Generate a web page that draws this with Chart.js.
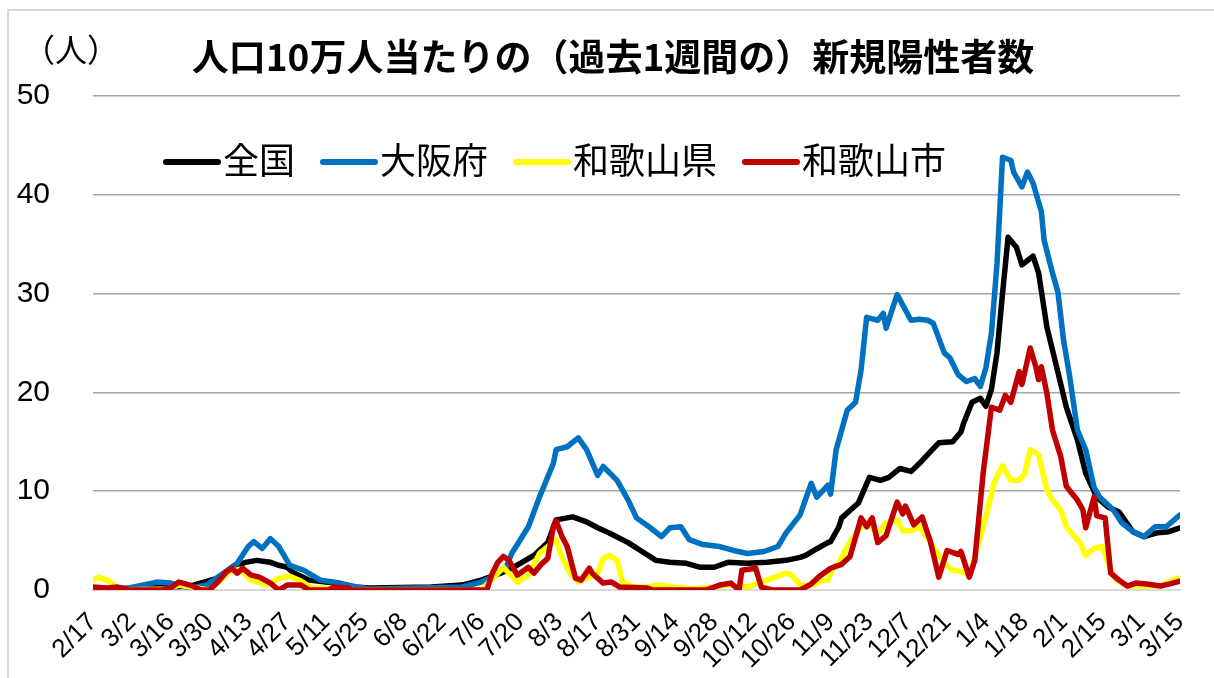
<!DOCTYPE html>
<html lang="ja">
<head>
<meta charset="utf-8">
<script src="https://cdn.jsdelivr.net/npm/chart.js@4.4.0/dist/chart.umd.min.js"></script>
<style>
  html, body { margin: 0; padding: 0; background: #fff; }
  #frame { position: absolute; left: 7px; top: 9px; width: 1230px; height: 700px; border: 2px solid #d9d9d9; box-sizing: border-box; }
  #wrap { position: absolute; left: 0; top: 0; width: 1214px; height: 678px; }
</style>
</head>
<body>
<div id="frame"></div>
<div id="wrap"><canvas id="chart" width="1214" height="678"></canvas></div>
<script>
// 2/17 から 14日ごとの目盛り
const xLabels = ["2/17", "3/2", "3/16", "3/30", "4/13", "4/27", "5/11", "5/25", "6/8", "6/22",
  "7/6", "7/20", "8/3", "8/17", "8/31", "9/14", "9/28", "10/12", "10/26", "11/9",
  "11/23", "12/7", "12/21", "1/4", "1/18", "2/1", "2/15", "3/1", "3/15"];
const yTicks = [0, 10, 20, 30, 40, 50];

const chartTitle = "人口10万人当たりの（過去1週間の）新規陽性者数";
const unitLabel = "（人）";
const seriesNames = ["全国", "大阪府", "和歌山県", "和歌山市"];
const seriesColors = ["#000000", "#0070c0", "#ffff00", "#c00000"];

// [2/17からの日数, 値]
const zenkoku = [[0,0.1],[20,0.2],[35,0.4],[45,1.2],[50,2.2],[55,2.8],[59,3.0],[64,2.8],[67,2.5],[70,2.3],
  [72,1.8],[78,1.0],[87,0.7],[94,0.3],[100,0.2],[122,0.3],[133,0.5],[140,1.0],[144,1.4],[147,1.7],
  [151,2.2],[159,3.5],[164,4.8],[167,7.1],[173,7.4],[178,6.9],[182,6.3],[186,5.8],[193,4.8],[198,3.9],
  [203,3.0],[208,2.8],[214,2.7],[219,2.3],[224,2.3],[229,2.8],[236,2.7],[243,2.8],[250,3.0],[255,3.3],
  [257,3.5],[260,4.0],[265,4.8],[266,4.9],[269,6.4],[270,7.3],[276,8.8],[280,11.4],[284,11.1],[287,11.4],
  [291,12.3],[295,12.0],[298,12.8],[302,14.0],[305,14.9],[310,15.0],[313,16.0],[314,16.9],[317,19.0],[320,19.4],
  [322,18.6],[324,20.3],[326,24.0],[328,30.0],[330,35.7],[333,34.7],[335,32.9],[339,33.8],[341,32.1],[344,26.6],
  [348,22.0],[351,18.5],[355,15.2],[358,11.8],[362,9.4],[366,8.4],[370,7.9],[375,5.9],[379,5.4],[384,5.8],
  [388,5.9],[392,6.3]];

const osaka = [[0,0],[13,0.2],[23,0.8],[28,0.7],[35,0.2],[41,0.5],[47,1.7],[52,2.7],[56,4.4],[58,4.9],
  [61,4.2],[64,5.2],[67,4.4],[71,2.5],[76,2.0],[82,1.0],[89,0.7],[95,0.3],[100,0.1],[133,0.3],
  [140,0.8],[143,1.2],[149,2.3],[151,3.7],[157,6.4],[161,9.4],[166,12.8],[167,14.2],[171,14.5],[175,15.4],
  [178,14.2],[182,11.6],[184,12.5],[189,11.1],[193,9.1],[196,7.3],[201,6.3],[205,5.4],[208,6.3],[212,6.4],
  [215,5.1],[220,4.6],[226,4.4],[231,4.0],[236,3.7],[242,3.9],[247,4.4],[250,5.8],[255,7.6],[259,10.8],
  [261,9.4],[265,10.6],[266,9.7],[268,14.2],[272,18.2],[275,19.0],[277,22.3],[279,27.6],[283,27.3],[285,28.0],
  [286,26.5],[290,29.9],[295,27.3],[298,27.4],[301,27.3],[303,27.0],[307,24.0],[309,23.5],[312,21.8],[315,21.1],
  [318,21.4],[320,20.6],[322,22.5],[324,26.0],[326,33.0],[328,43.8],[331,43.5],[332,42.3],[335,40.8],[337,42.3],
  [339,41.2],[342,38.3],[343,35.4],[346,32.1],[348,30.1],[350,25.3],[352,22.0],[355,16.2],[358,14.2],[361,10.4],
  [363,9.4],[368,8.1],[371,6.8],[375,5.9],[379,5.4],[383,6.4],[387,6.4],[392,7.6]];

const wakayamaKen = [[0,1.0],[2,1.3],[6,0.9],[9,0],[27,0.1],[31,0.5],[35,0.3],[42,0],[46,1.0],[49,1.8],
  [53,2.1],[57,1.0],[63,0.5],[67,1.2],[71,1.4],[75,0.9],[79,0.2],[87,0.2],[90,0],[140,0],
  [146,1.7],[148,2.3],[153,0.8],[157,1.5],[161,3.7],[164,4.4],[167,5.1],[169,3.4],[172,1.7],[175,0.8],
  [178,1.2],[182,1.7],[184,3.2],[186,3.5],[189,3.0],[191,0.8],[195,0.3],[200,0.3],[204,0.5],[209,0.3],
  [216,0.1],[224,0.3],[229,0.5],[236,0.3],[241,0.8],[245,1.2],[250,1.7],[252,1.5],[255,0.5],[260,0.5],
  [262,0.9],[265,1.0],[267,2.3],[269,2.7],[272,4.4],[276,6.1],[279,6.8],[283,5.7],[286,6.8],[290,7.1],
  [292,6.0],[295,6.0],[298,6.4],[303,4.4],[307,2.7],[310,2.0],[313,1.9],[316,1.5],[319,4.4],[322,7.4],
  [325,10.9],[328,12.6],[331,11.1],[334,11.1],[336,11.8],[338,14.2],[341,13.7],[344,10.1],[346,9.1],[349,8.1],
  [351,6.4],[354,5.4],[356,4.8],[358,3.5],[361,4.2],[364,4.4],[367,2.0],[369,1.0],[373,0.4],[385,0.4],
  [391,1.2]];

const wakayamaShi = [[0,0.3],[5,0.2],[9,0.3],[13,0],[25,0],[28,0.2],[31,0.8],[35,0.5],[39,0],[42,0],
  [45,0.8],[48,1.8],[50,2.2],[52,1.7],[54,2.2],[57,1.5],[60,1.3],[64,0.7],[67,0],[70,0.5],
  [75,0.5],[78,0],[85,0],[87,0.3],[92,0.2],[93,0],[142,0],[144,1.7],[146,2.8],[148,3.4],
  [150,3.0],[153,1.5],[157,2.3],[159,1.7],[162,2.7],[164,3.2],[166,6.4],[167,7.0],[169,5.5],[171,4.4],
  [174,1.2],[176,1.0],[179,2.2],[180,1.7],[184,0.7],[187,0.8],[190,0.3],[200,0.2],[202,0],[221,0],
  [226,0.5],[230,0.7],[233,0],[234,2.0],[239,2.2],[241,0.3],[245,0],[255,0],[259,0.6],[262,1.4],
  [266,2.2],[270,2.6],[273,3.4],[277,7.3],[279,6.4],[281,7.3],[283,4.8],[286,5.5],[290,8.9],[292,7.7],
  [293,8.5],[296,6.6],[299,7.4],[302,4.9],[305,1.3],[308,4.0],[312,3.6],[313,3.9],[316,1.3],[318,3.0],
  [321,11.8],[324,18.5],[327,18.2],[329,19.7],[331,19.0],[334,22.1],[335,20.8],[338,24.5],[340,22.6],[341,21.3],
  [342,22.6],[344,19.9],[346,16.2],[349,13.5],[351,10.5],[353,9.8],[355,9.1],[357,8.1],[358,6.3],[361,9.4],
  [362,7.5],[365,7.3],[367,1.7],[370,1.0],[373,0.4],[376,0.7],[380,0.6],[385,0.4],[388,0.6],[392,0.9]];

const allSeries = [zenkoku, osaka, wakayamaKen, wakayamaShi];

const jpFont = '"Noto Sans CJK JP", "Noto Sans", sans-serif';
const numFont = '"Liberation Sans", Arial, sans-serif';

// タイトル・単位・凡例を描く
const headerPlugin = {
  id: 'header',
  afterDraw(chart) {
    const ctx = chart.ctx;
    ctx.save();
    ctx.fillStyle = '#000';
    ctx.textBaseline = 'middle';
    ctx.font = 'bold 37px ' + jpFont;
    ctx.textAlign = 'center';
    ctx.fillText(chartTitle, 613, 57);
    ctx.font = '32px ' + jpFont;
    ctx.textAlign = 'left';
    ctx.fillText(unitLabel, 23, 50);

    ctx.font = '36px ' + jpFont;
    let x = 166;
    const y = 162;
    chart.data.datasets.forEach(ds => {
      ctx.strokeStyle = ds.borderColor;
      ctx.lineWidth = 6;
      ctx.lineCap = 'round';
      ctx.beginPath();
      ctx.moveTo(x, y);
      ctx.lineTo(x + 52, y);
      ctx.stroke();
      ctx.fillStyle = '#000';
      ctx.fillText(ds.label, x + 57, y - 2);
      x += 57 + ctx.measureText(ds.label).width + 28;
    });
    ctx.restore();
  }
};

const datasets = allSeries.map((s, i) => ({
  label: seriesNames[i],
  data: s.map(p => ({ x: p[0], y: p[1] })),
  borderColor: seriesColors[i],
  backgroundColor: seriesColors[i],
  borderWidth: 5.5,
  pointRadius: 0,
  tension: 0,
  fill: false,
  order: 3 - i,
  borderJoinStyle: 'round',
  borderCapStyle: 'round'
}));

const ctx = document.getElementById('chart').getContext('2d');
new Chart(ctx, {
  type: 'line',
  data: { datasets: datasets },
  options: {
    responsive: false,
    animation: false,
    devicePixelRatio: 1,
    layout: { padding: { top: 96, left: 10, right: 34, bottom: 0 } },
    plugins: {
      legend: { display: false },
      title: { display: false },
      tooltip: { enabled: false }
    },
    scales: {
      x: {
        type: 'linear',
        min: 0,
        max: 392,
        afterFit: (axis) => {
          axis.height = 88;
          axis.paddingLeft = 0;
          axis.paddingRight = 0;
        },
        afterBuildTicks: (axis) => {
          axis.ticks = xLabels.map((_, i) => ({ value: i * 14 }));
        },
        ticks: {
          autoSkip: false,
          minRotation: 45,
          maxRotation: 45,
          padding: 17,
          color: '#000',
          font: { family: numFont, size: 26 },
          callback: (v) => xLabels[Math.round(v / 14)]
        },
        grid: { display: false, drawTicks: false, tickLength: 0 },
        border: { display: true, color: '#d9d9d9', width: 2 }
      },
      y: {
        min: 0,
        max: 50,
        afterFit: (axis) => { axis.width = 83; },
        afterBuildTicks: (axis) => {
          axis.ticks = yTicks.map(v => ({ value: v }));
        },
        ticks: {
          padding: 43,
          color: '#000',
          font: { family: numFont, size: 30 }
        },
        grid: {
          drawTicks: false,
          tickLength: 0,
          lineWidth: 1.5,
          color: (c) => c.tick && c.tick.value === 0 ? '#d9d9d9' : '#a6a6a6'
        },
        border: { display: false }
      }
    }
  },
  plugins: [headerPlugin]
});
</script>
</body>
</html>
